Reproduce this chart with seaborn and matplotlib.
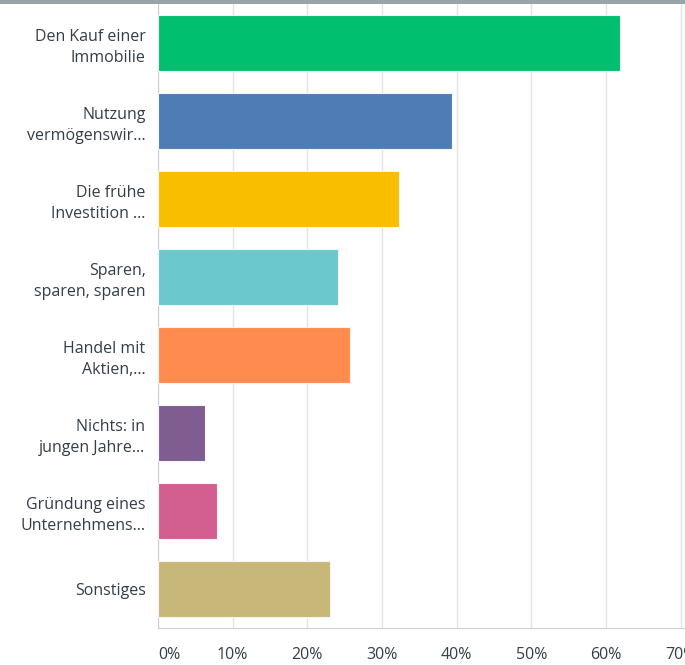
import matplotlib.pyplot as plt
import pandas as pd
import seaborn as sns
from matplotlib.patches import Rectangle
from matplotlib.ticker import FuncFormatter

# answers (y axis) and share of respondents in percent (x axis)
categories = [
    "Den Kauf einer\nImmobilie",
    "Nutzung\nvermögenswir...",
    "Die frühe\nInvestition ...",
    "Sparen,\nsparen, sparen",
    "Handel mit\nAktien,...",
    "Nichts: in\njungen Jahre...",
    "Gründung eines\nUnternehmens...",
    "Sonstiges",
]
values = [61.8, 39.4, 32.3, 24.1, 25.7, 6.3, 7.9, 23.0]
colors = ["#00BF6F", "#507CB6", "#F9BE00", "#6BC8CD",
          "#FF8B4F", "#7F5D90", "#D25F90", "#C7B879"]
x_ticks = [0, 10, 20, 30, 40, 50, 60, 70]

df = pd.DataFrame({"answer": categories, "share": values})

sns.set_style("white")
plt.rcParams["font.family"] = ["Open Sans", "DejaVu Sans"]

fig = plt.figure(figsize=(6.85, 6.65), dpi=100)
ax = fig.add_axes([158 / 685, 37 / 665, 527 / 685, 624 / 665])

sns.barplot(data=df, x="share", y="answer", hue="answer", palette=colors,
            legend=False, width=0.72, saturation=1, edgecolor="#f4f4f4",
            linewidth=0.8, ax=ax, zorder=3)

ax.set_xlim(0, 70.55)
ax.set_ylim(7.5, -0.5)
ax.set_xticks(x_ticks)
ax.xaxis.set_major_formatter(FuncFormatter(lambda v, _: f"{int(v)}%"))
ax.grid(axis="x", color="#e4e4e4", linewidth=1, zorder=0)
ax.set_xlabel("")
ax.set_ylabel("")

for side in ["top", "right"]:
    ax.spines[side].set_visible(False)
ax.spines["left"].set_color("#cfcfcf")
ax.spines["bottom"].set_color("#cfcfcf")

ax.tick_params(axis="y", length=0, pad=9, labelsize=11.5, labelcolor="#333e48")
ax.tick_params(axis="x", length=0, pad=14, labelsize=11.5, labelcolor="#333e48")
for lbl in ax.get_yticklabels():
    lbl.set_horizontalalignment("right")
    lbl.set_linespacing(1.4)
ax.get_xticklabels()[0].set_horizontalalignment("left")

# grey strip of the screenshot frame at the top
fig.patches.append(Rectangle((0, 1 - 4 / 665), 1, 4 / 665, transform=fig.transFigure,
                             facecolor="#9aa3a8", edgecolor="none"))

fig.savefig("out.png", dpi=100)
